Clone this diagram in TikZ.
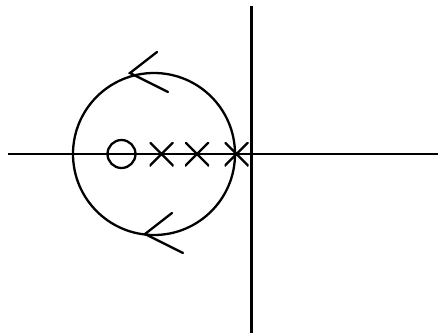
\documentclass[tikz,border=0pt]{standalone}
\begin{document}
\begin{tikzpicture}[x=1pt,y=-1pt,line width=2.3pt,
  pole/.style={inner sep=0pt,minimum size=24pt,path picture={
    \draw[line width=2.3pt] (path picture bounding box.north west) -- (path picture bounding box.south east)
      (path picture bounding box.north east) -- (path picture bounding box.south west);}},
  zero/.style={circle,draw,line width=2.3pt,inner sep=0pt,minimum size=28pt}]
\useasboundingbox (0,0) rectangle (438,333);
\coordinate (xl) at (8,154);
\coordinate (xr) at (438,154);
\coordinate (yt) at (251.5,6);
\coordinate (yb) at (251.5,333);
\draw (xl) -- (xr);
\draw (yt) -- (yb);
\coordinate (c) at (154,154);
\draw (c) circle (81);
\node[zero] (z) at (121.5,154) {};
\node[pole] (p1) at (161.5,154) {};
\node[pole] (p2) at (197,154) {};
\node[pole] (p3) at (236.5,154) {};
\coordinate (t1) at (130,73);
\coordinate (t1a) at (157,52);
\coordinate (t1b) at (168,92);
\coordinate (t2) at (145,234);
\coordinate (t2a) at (172,213);
\coordinate (t2b) at (183,253);
\draw[line cap=round] (t1a) -- (t1) -- (t1b);
\draw[line cap=round] (t2a) -- (t2) -- (t2b);
\end{tikzpicture}
\end{document}
